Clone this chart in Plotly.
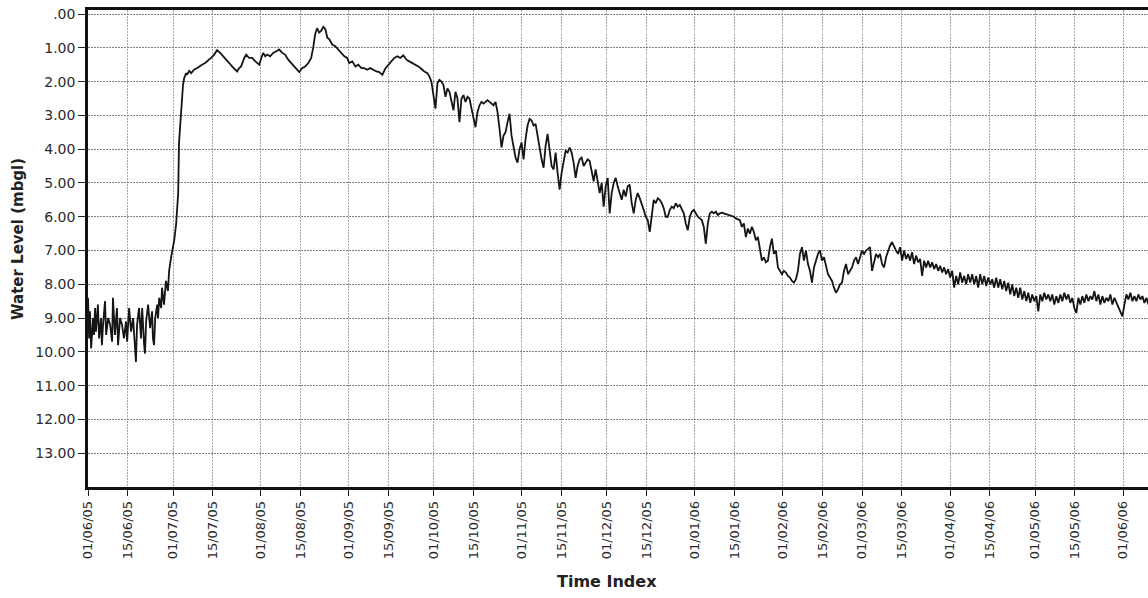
import pandas as pd
import plotly.graph_objects as go

# Bore hydrograph: water level below ground level (m), June 2005 - June 2006
origin = pd.Timestamp("2005-06-01")

# Early record: elapsed days since 01/06/05 and level (mbgl)
early_days = [
    0.0, 0.4, 0.7, 1.1, 1.8, 2.1, 2.5, 2.8, 3.5, 3.9, 4.6, 4.9, 5.3, 6.0, 6.4, 7.1,
    7.8, 8.5, 8.8, 9.5, 10.2, 10.6, 11.3, 12.0, 12.7, 13.4, 13.8, 14.5, 15.2, 15.9,
    16.6, 16.9, 17.3, 18.0, 18.7, 19.1, 19.8, 20.1, 20.5, 21.2, 21.9, 22.6, 22.9,
    23.3, 23.7, 24.4, 24.7, 25.1, 25.8, 26.1, 26.8, 27.2, 27.5, 28.2, 28.6, 29.3,
    29.7, 30.4, 31.1, 31.8, 32.1, 32.5, 32.8, 33.5, 33.9, 34.6,
    34.9, 35.7, 36.4, 37.4, 38.5, 39.2, 40.2, 41.3, 42.4, 43.4, 44.5, 45.5, 46.6,
    47.7, 48.7, 49.8, 50.8, 51.9, 52.6, 53.3, 54.0, 55.1, 55.8, 56.8, 57.9, 59.0,
    59.7, 60.4, 61.1, 61.8, 62.5, 63.2, 64.2, 65.3, 66.4, 67.4, 68.5, 69.5, 70.6,
    71.7, 72.7, 73.8, 74.5, 75.5, 76.6, 77.7, 78.7, 79.4, 80.1, 80.8, 81.5, 82.2,
    83.0, 83.7, 84.4, 85.1, 86.1, 87.2, 88.3, 89.3, 90.4, 91.4, 92.1, 93.2, 94.3,
    95.3, 96.4, 97.4, 98.5, 99.5, 100.6, 101.7, 102.7, 103.8, 104.8, 105.9, 107.0,
    108.0, 109.1, 110.1, 111.2, 112.3, 113.3, 114.4, 115.4, 116.5, 117.5, 118.6,
    119.7,
]
early_level = [
    8.4, 9.6, 8.8, 9.9, 9.0, 9.5, 8.7, 9.4, 8.6, 9.6, 9.0, 9.8, 9.2, 8.5, 9.5, 9.0,
    9.2, 9.7, 8.4, 9.5, 8.7, 9.8, 9.0, 9.2, 9.6, 9.1, 9.7, 8.7, 9.4, 9.0,
    9.9, 10.3, 9.2, 8.7, 9.6, 8.7, 9.8, 10.05, 9.1, 8.6, 9.3, 8.8, 9.6,
    9.8, 9.0, 8.6, 9.0, 8.4, 8.7, 8.1, 8.6, 8.3, 7.9, 8.2, 7.6, 7.2,
    7.0, 6.7, 6.2, 5.3, 3.8, 3.3, 2.65, 2.1, 1.9, 1.75,
    1.8, 1.68, 1.75, 1.65, 1.6, 1.55, 1.5, 1.45, 1.38, 1.3, 1.2, 1.07, 1.15,
    1.25, 1.32, 1.45, 1.55, 1.65, 1.7, 1.6, 1.55, 1.3, 1.2, 1.3, 1.3, 1.4,
    1.45, 1.5, 1.3, 1.15, 1.25, 1.2, 1.25, 1.15, 1.1, 1.05, 1.15, 1.2, 1.35,
    1.45, 1.55, 1.65, 1.72, 1.6, 1.55, 1.45, 1.3, 1.0, 0.6, 0.42, 0.55, 0.5,
    0.38, 0.45, 0.7, 0.75, 0.9, 0.95, 1.05, 1.15, 1.25, 1.3, 1.45, 1.4, 1.55,
    1.5, 1.6, 1.6, 1.65, 1.6, 1.65, 1.7, 1.72, 1.8, 1.62, 1.5, 1.4,
    1.3, 1.25, 1.3, 1.22, 1.35, 1.4, 1.45, 1.5, 1.55, 1.62, 1.7,
    1.75,
]

# Logger record at a fixed interval from late September 2005
logger_start = "2005-09-29 09:36"
logger_step = "1017min"
logger_level = [
    # Sep - Jan
    1.85, 2.0, 2.4, 2.8, 2.05, 1.95, 2.0, 2.1, 2.45, 2.2, 2.3, 2.6, 2.85, 2.3, 2.5,
    3.2, 2.5, 2.4, 2.6, 2.45, 2.5, 2.8, 3.1, 3.35, 2.9, 2.7, 2.6, 2.65, 2.6, 2.55,
    2.6, 2.65, 2.7, 2.6, 2.9, 3.4, 3.95, 3.6, 3.5, 3.2, 2.95, 3.6, 4.0, 4.25, 4.4,
    4.0, 3.8, 4.3, 3.7, 3.3, 3.1, 3.15, 3.3, 3.25, 3.6, 4.0, 4.3, 4.55, 3.9, 3.55,
    4.0, 4.5, 4.6, 4.1, 4.7, 5.2, 4.7, 4.3, 4.05, 4.1, 3.95, 4.1, 4.4, 4.85, 4.5,
    4.3, 4.25, 4.5, 4.4, 4.3, 4.35, 4.7, 4.95, 4.6, 4.9, 5.3, 5.0, 5.7, 5.1, 4.85,
    5.9, 5.3, 5.0, 4.85, 5.1, 5.3, 5.5, 5.2, 5.4, 5.1, 5.05, 5.6, 5.9, 5.5, 5.3,
    5.45, 5.6, 5.8, 6.0, 6.1, 6.45, 5.9, 5.5, 5.6, 5.45, 5.5, 5.6, 5.75, 6.0, 6.0,
    5.8, 5.7, 5.75, 5.6, 5.7, 5.65, 5.8, 5.9, 6.2, 6.4, 6.0, 5.85, 5.8, 5.9, 6.0,
    6.05, 6.1, 6.3, 6.8, 6.2, 5.9, 5.85, 5.9, 5.85, 5.95, 5.9,
    # Jan - Jun
    5.88, 5.9, 5.92, 5.92, 5.95, 5.97, 6.0, 6.05, 6.08, 6.1,
    6.3, 6.2, 6.6, 6.35, 6.5, 6.3, 6.45, 6.7, 6.6, 7.0, 7.3, 7.2, 7.35, 7.3, 6.9,
    6.65, 7.1, 7.0, 7.5, 7.6, 7.7, 7.6, 7.65, 7.75, 7.8, 7.9, 7.95, 7.85, 7.6, 7.1,
    6.9, 7.3, 7.0, 7.4, 7.6, 7.95, 7.5, 7.3, 7.1, 7.0, 7.3, 7.2, 7.5, 7.7, 7.8,
    7.9, 8.1, 8.25, 8.15, 8.0, 7.95, 7.6, 7.4, 7.7, 7.6, 7.5, 7.3, 7.2, 7.4, 7.2,
    7.0, 7.1, 7.0, 6.95, 6.9, 7.6, 7.3, 7.1, 7.2, 7.1, 7.4, 7.5, 7.2, 7.0, 6.85,
    6.75, 6.9, 7.0, 7.1, 6.9, 7.3, 7.0, 7.25, 7.1, 7.3, 7.05, 7.4, 7.15, 7.35, 7.25,
    7.75, 7.3, 7.5, 7.3, 7.5, 7.35, 7.55, 7.4, 7.6, 7.45, 7.65, 7.5, 7.7, 7.55, 7.8,
    7.6, 8.1, 7.75, 8.0, 7.65, 7.95, 7.75, 8.0, 7.7, 7.95, 7.7, 8.0, 7.75, 8.1, 7.7,
    8.0, 7.75, 8.05, 7.8, 8.0, 7.85, 8.1, 7.8, 8.1, 7.85, 8.15, 7.9, 8.2, 7.95, 8.3,
    8.0, 8.35, 8.1, 8.4, 8.1, 8.45, 8.2, 8.5, 8.25, 8.55, 8.3, 8.5, 8.35, 8.8, 8.3,
    8.5, 8.25, 8.45, 8.3, 8.5, 8.3, 8.6, 8.35, 8.55, 8.3, 8.5, 8.25, 8.45, 8.3, 8.55,
    8.4, 8.7, 8.85, 8.4, 8.6, 8.35, 8.55, 8.3, 8.5, 8.35, 8.45, 8.2, 8.5, 8.3, 8.6,
    8.35, 8.55, 8.4, 8.5, 8.3, 8.6, 8.4, 8.55, 8.7, 8.85, 8.95, 8.6, 8.3, 8.45, 8.25,
    8.5, 8.35, 8.5, 8.3, 8.45, 8.35, 8.55, 8.4, 8.6,
]

level_ticks = list(range(14))
level_labels = [".00", "1.00", "2.00", "3.00", "4.00", "5.00", "6.00", "7.00",
                "8.00", "9.00", "10.00", "11.00", "12.00", "13.00"]

date_ticks = [
    "2005-06-01", "2005-06-15", "2005-07-01", "2005-07-15", "2005-08-01", "2005-08-15",
    "2005-09-01", "2005-09-15", "2005-10-01", "2005-10-15", "2005-11-01", "2005-11-15",
    "2005-12-01", "2005-12-15", "2006-01-01", "2006-01-15", "2006-02-01", "2006-02-15",
    "2006-03-01", "2006-03-15", "2006-04-01", "2006-04-15", "2006-05-01", "2006-05-15",
    "2006-06-01",
]
date_labels = [
    "01/06/05", "15/06/05", "01/07/05", "15/07/05", "01/08/05", "15/08/05",
    "01/09/05", "15/09/05", "01/10/05", "15/10/05", "01/11/05", "15/11/05",
    "01/12/05", "15/12/05", "01/01/06", "15/01/06", "01/02/06", "15/02/06",
    "01/03/06", "15/03/06", "01/04/06", "15/04/06", "01/05/06", "15/05/06",
    "01/06/06",
]

t_early = origin + pd.to_timedelta(early_days, unit="D")
t_logger = pd.date_range(logger_start, periods=len(logger_level), freq=logger_step)
times = t_early.append(t_logger)
levels = early_level + logger_level

fig = go.Figure(
    go.Scatter(
        x=times, y=levels, mode="lines",
        line=dict(color="#151515", width=1.8),
        hoverinfo="skip",
    )
)

tick_font = dict(family="DejaVu Sans", size=13, color="#2a2a2a")
fig.update_layout(
    width=1148, height=598,
    margin=dict(l=88, r=0, t=10, b=111),
    paper_bgcolor="white", plot_bgcolor="white",
    showlegend=False,
    xaxis=dict(
        range=["2005-06-01", "2006-06-09 19:00"],
        tickvals=date_ticks, ticktext=date_labels, tickangle=-90,
        tickfont=tick_font,
        ticks="outside", ticklen=6, tickwidth=1, tickcolor="#222",
        showgrid=True, gridcolor="#a6a6a6", gridwidth=1, griddash="2px,1px",
        showline=True, linecolor="#111", linewidth=2.5, mirror=True,
        zeroline=False,
    ),
    yaxis=dict(
        range=[14.0, -0.12],
        tickvals=level_ticks, ticktext=level_labels,
        tickfont=dict(family="DejaVu Sans", size=14, color="#2a2a2a"),
        ticks="outside", ticklen=7, tickwidth=1, tickcolor="#222",
        showgrid=True, gridcolor="#808080", gridwidth=1, griddash="2px,1px",
        showline=True, linecolor="#111", linewidth=2.5,
        zeroline=False,
    ),
    annotations=[
        dict(text="<b>Water Level (mbgl)</b>", textangle=-90,
             xref="paper", yref="paper", x=-0.066, y=0.52,
             xanchor="center", yanchor="middle", showarrow=False,
             font=dict(family="DejaVu Sans", size=15, color="#222")),
        dict(text="<b>Time Index</b>",
             xref="paper", yref="paper", x=0.49, y=-0.199,
             xanchor="center", yanchor="middle", showarrow=False,
             font=dict(family="DejaVu Sans", size=16, color="#222")),
    ],
)

fig.write_html("out.html")
